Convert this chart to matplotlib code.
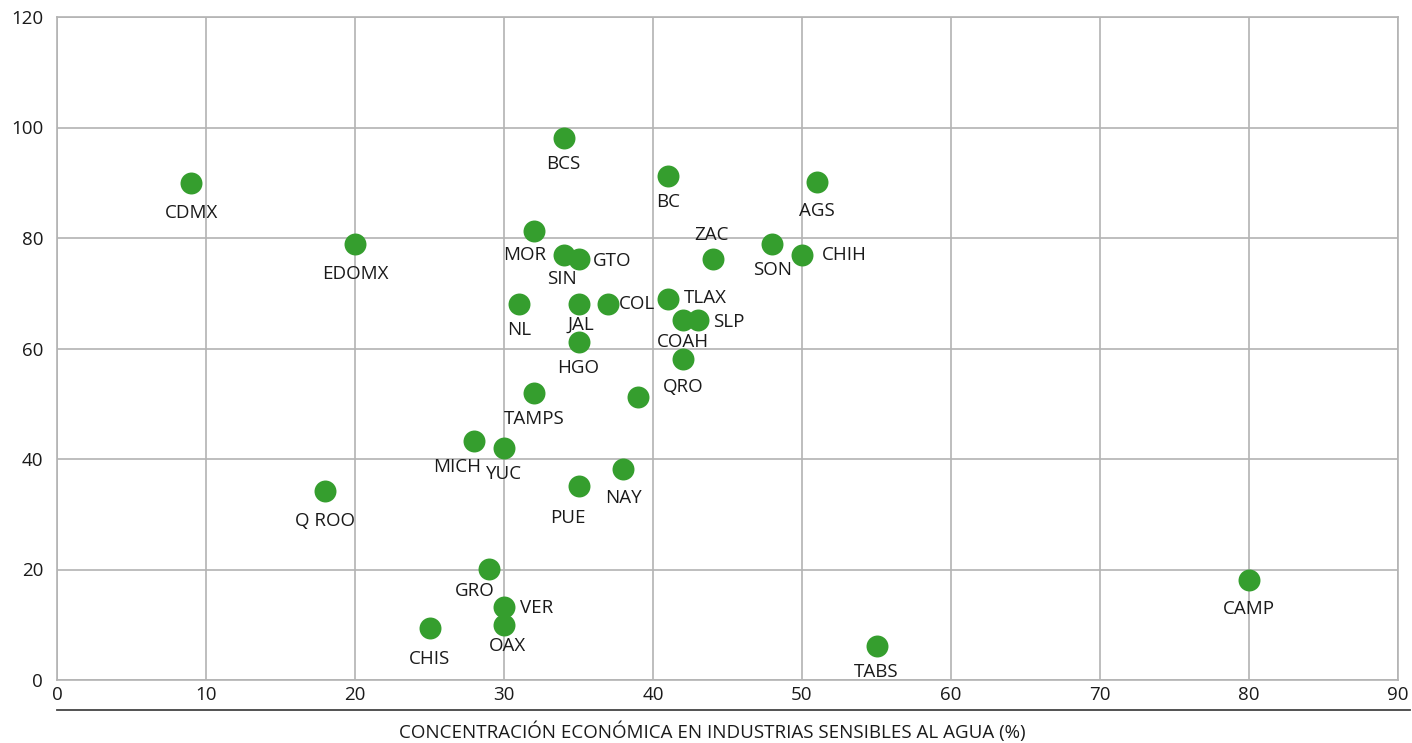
import matplotlib
matplotlib.use("Agg")
import matplotlib.pyplot as plt

# Concentración económica en industrias sensibles al agua (%) vs índice (eje y)
STATES = ["CDMX", "EDOMX", "Q ROO", "BCS", "BC", "AGS", "MOR", "SIN", "GTO",
          "ZAC", "SON", "CHIH", "NL", "JAL", "COL", "TLAX", "COAH", "SLP",
          "HGO", "QRO", "", "TAMPS", "MICH", "YUC", "NAY", "PUE", "GRO",
          "VER", "OAX", "CHIS", "TABS", "CAMP"]
X_VALS = [9, 20, 18, 34, 41, 51, 32, 34, 35,
          44, 48, 50, 31, 35, 37, 41, 42, 43,
          35, 42, 39, 32, 28, 30, 38, 35, 29,
          30, 30, 25, 55, 80]
Y_VALS = [90, 78.9, 34.2, 98.1, 91.2, 90.1, 81.3, 76.9, 76.2,
          76.2, 78.9, 76.9, 68, 68, 68, 69, 65.2, 65.2,
          61.2, 58.1, 51.2, 51.9, 43.3, 42, 38.2, 35.1, 20.1,
          13.2, 10, 9.4, 6.2, 18.1]

X_TICKS = list(range(0, 91, 10))
Y_TICKS = list(range(0, 121, 20))
XLABEL = "CONCENTRACIÓN ECONÓMICA EN INDUSTRIAS SENSIBLES AL AGUA (%)"

# label offset from the marker centre, in pixels (dx right, dy down)
LABEL_OFF = {
    "GTO": (34, 2), "CHIH": (42, 0), "COL": (29, 0), "TLAX": (37, -1),
    "SLP": (31, 2), "VER": (33, 1), "ZAC": (-1, -24), "MOR": (-9, 24),
    "MICH": (-17, 26), "PUE": (-11, 32), "GRO": (-14, 22), "JAL": (2, 20),
    "COAH": (0, 22), "OAX": (3, 21), "SIN": (-2, 24),
}
DEFAULT_DY = {"CDMX": 30, "EDOMX": 30, "Q ROO": 30, "CHIS": 31, "AGS": 29,
              "NAY": 29, "CAMP": 29, "QRO": 28}

GREEN = "#359e2e"
GRID = "#b3b3b3"
TXT = "#1a1a1a"
FS = 13.5
PX = 72 / 100  # pixel -> points

plt.rcParams["font.family"] = ["Open Sans", "DejaVu Sans"]

fig = plt.figure(figsize=(14.12, 7.43), dpi=100)
W, H = 1412, 743
ax = fig.add_axes([57 / W, 1 - 680 / H, (1398 - 57) / W, (680 - 17) / H])

ax.scatter(X_VALS, Y_VALS, s=250, color=GREEN, linewidths=0, zorder=3)

for name, x, y in zip(STATES, X_VALS, Y_VALS):
    if not name:
        continue
    dx, dy = LABEL_OFF.get(name, (0, DEFAULT_DY.get(name, 26)))
    ax.annotate(name, (x, y), xytext=(dx * PX, -dy * PX),
                textcoords="offset points", ha="center", va="center",
                fontsize=FS, color=TXT, zorder=4)

ax.set_xlim(0, 90)
ax.set_ylim(0, 120)
ax.set_xticks(X_TICKS)
ax.set_yticks(Y_TICKS)
ax.grid(True, color=GRID, lw=1.2)
ax.set_axisbelow(True)
for s in ax.spines.values():
    s.set_color(GRID)
    s.set_linewidth(1.2)
ax.tick_params(length=0, labelsize=FS, labelcolor=TXT)
ax.tick_params(axis="x", pad=4)
ax.tick_params(axis="y", pad=10)

# dark rule under the tick labels
fig.add_artist(plt.Line2D([57 / W, 1410 / W], [1 - 710 / H] * 2,
                          color="#444444", lw=1.3))
fig.text(712 / W, 1 - 732 / H, XLABEL, ha="center", va="center",
         fontsize=FS, color=TXT)

fig.savefig("out.png", dpi=100)
